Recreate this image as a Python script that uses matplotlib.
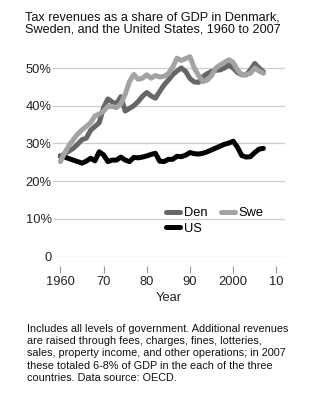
import matplotlib
matplotlib.use('Agg')
import matplotlib.pyplot as plt
import numpy as np

years = list(range(1960, 2008))

# tax revenue as % of GDP
den = [26.5, 27.3, 28.0, 28.7, 29.8, 31.0, 31.4, 33.5, 34.5, 35.5,
       39.5, 41.8, 41.0, 40.5, 42.4, 38.6, 39.3, 40.0, 41.1, 42.5,
       43.5, 42.6, 42.0, 43.8, 45.5, 46.8, 48.2, 49.2, 50.0, 49.1,
       47.2, 46.3, 46.2, 47.7, 48.5, 49.1, 49.4, 49.5, 50.0, 50.8,
       50.0, 48.8, 48.2, 48.2, 49.5, 51.2, 50.0, 49.0]
swe = [25.2, 27.5, 29.5, 31.0, 32.5, 33.6, 34.5, 35.5, 37.3, 37.8,
       38.6, 39.8, 39.8, 39.5, 40.5, 43.0, 46.4, 48.3, 47.0, 47.3,
       48.2, 47.3, 48.0, 47.6, 47.8, 48.5, 50.2, 52.6, 52.0, 52.5,
       53.0, 50.0, 48.0, 46.4, 46.8, 48.0, 50.0, 50.8, 51.5, 52.2,
       51.5, 49.5, 48.2, 48.3, 48.6, 50.0, 49.2, 48.6]
us = [26.7, 26.4, 26.0, 25.6, 25.2, 24.8, 25.3, 26.1, 25.4, 27.8,
      27.0, 25.2, 25.6, 25.6, 26.4, 25.6, 25.2, 26.3, 26.2, 26.4,
      26.7, 27.1, 27.4, 25.3, 25.2, 25.8, 25.8, 26.6, 26.5, 26.9,
      27.6, 27.3, 27.2, 27.4, 27.8, 28.3, 28.8, 29.3, 29.8, 30.1,
      30.6, 29.0, 26.8, 26.4, 26.5, 27.6, 28.5, 28.7]

x_ticks = [1960, 1970, 1980, 1990, 2000, 2010]
x_labels = ["1960", "70", "80", "90", "2000", "10"]
y_ticks = [0, 10, 20, 30, 40, 50]
y_labels = ["0", "10%", "20%", "30%", "40%", "50%"]

title = "Tax revenues as a share of GDP in Denmark,\nSweden, and the United States, 1960 to 2007"
note = ("Includes all levels of government. Additional revenues\n"
        "are raised through fees, charges, fines, lotteries,\n"
        "sales, property income, and other operations; in 2007\n"
        "these totaled 6-8% of GDP in the each of the three\n"
        "countries. Data source: OECD.")

plt.rcParams['font.family'] = ['Liberation Sans', 'DejaVu Sans']

W, H = 313, 400
fig = plt.figure(figsize=(W / 100, H / 100), dpi=100)
ax = fig.add_axes([53 / W, 1 - 256.7 / H, 232 / W, (256.7 - 48) / H])

lw = 3.6
kw = dict(lw=lw, solid_capstyle='round', solid_joinstyle='round')
l_us, = ax.plot(years, us, color='black', label='US', zorder=3, **kw)
l_den, = ax.plot(years, den, color='#666666', label='Den', zorder=4, **kw)
l_swe, = ax.plot(years, swe, color='#a3a3a3', label='Swe', zorder=5, **kw)

ax.set_xlim(1958.3, 2012.0)
ax.set_ylim(0, 55.3)

ax.set_yticks(y_ticks)
ax.set_yticklabels(y_labels)
ax.yaxis.grid(True, color='#cccccc', lw=0.9)
ax.set_axisbelow(True)
ax.tick_params(axis='y', length=0, pad=1, labelsize=9.3, labelcolor='#222222')

ax.set_xticks(x_ticks)
ax.set_xticklabels(x_labels)
ax.tick_params(axis='x', direction='out', length=5, width=0.8, color='#999999',
               pad=2, labelsize=9.3, labelcolor='#222222')
for s in ['top', 'right', 'left']:
    ax.spines[s].set_visible(False)
ax.spines['bottom'].set_position(('outward', 7))
ax.spines['bottom'].set_visible(False)
ax.set_xlabel("Year", fontsize=9.3, color='#222222', labelpad=3)

leg = fig.legend([l_den, l_us, l_swe], ['Den', 'US', 'Swe'], ncol=2,
                 loc='upper left', bbox_to_anchor=(166 / W, 1 - 207 / H),
                 frameon=False, fontsize=9.3, handlelength=1.1, handletextpad=0.3,
                 columnspacing=1.0, labelspacing=0.3, borderpad=0, borderaxespad=0)

fig.text(25 / W, 1 - 12 / H, title, ha='left', va='top', fontsize=9.05,
         linespacing=1.0, color='#111111')
fig.text(27 / W, 1 - 324 / H, note, ha='left', va='top', fontsize=7.8,
         linespacing=1.28, color='#111111')

fig.savefig("out.png", dpi=100, facecolor='white')
